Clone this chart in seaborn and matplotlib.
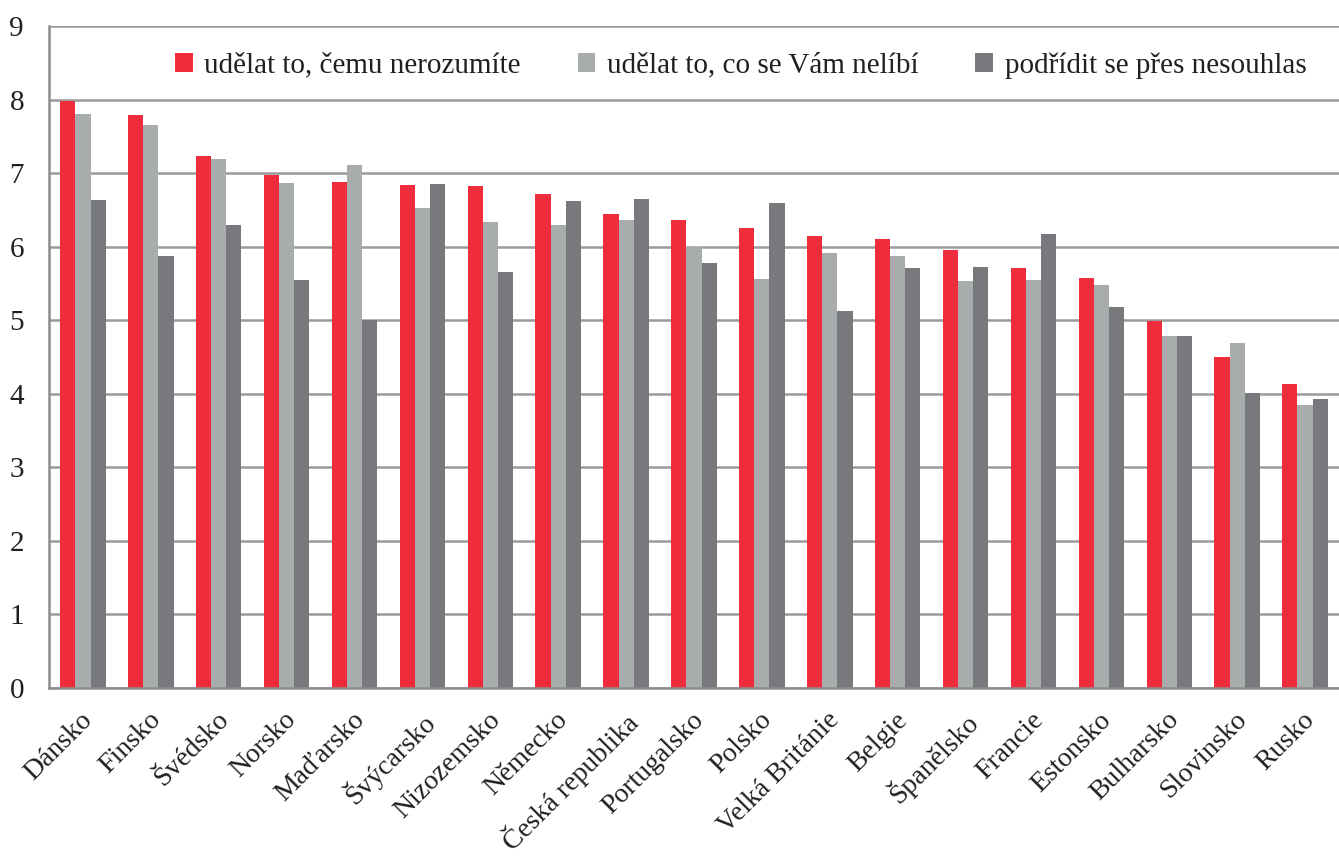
#!/usr/bin/env python3

"""
Grouped bar chart: countries x three statements
"""

import pandas as pd
import seaborn as sns
import matplotlib.pyplot as plt
import matplotlib.transforms as mtransforms
from matplotlib.ticker import FixedLocator

countries = ["Dánsko", "Finsko", "Švédsko", "Norsko", "Maďarsko", "Švýcarsko",
             "Nizozemsko", "Německo", "Česká republika", "Portugalsko", "Polsko",
             "Velká Británie", "Belgie", "Španělsko", "Francie", "Estonsko",
             "Bulharsko", "Slovinsko", "Rusko"]

series_names = ["udělat to, čemu nerozumíte",
                "udělat to, co se Vám nelíbí",
                "podřídit se přes nesouhlas"]

nerozumite = [7.98, 7.79, 7.23, 6.98, 6.88, 6.84, 6.82, 6.72, 6.45, 6.36,
              6.26, 6.14, 6.11, 5.95, 5.71, 5.58, 4.99, 4.50, 4.13]
nelibi = [7.80, 7.66, 7.19, 6.87, 7.11, 6.53, 6.33, 6.29, 6.36, 5.99,
          5.56, 5.92, 5.87, 5.53, 5.55, 5.48, 4.78, 4.69, 3.85]
nesouhlas = [6.63, 5.87, 6.30, 5.55, 5.00, 6.85, 5.66, 6.62, 6.65, 5.78,
             6.60, 5.13, 5.71, 5.72, 6.17, 5.18, 4.79, 4.01, 3.93]

colors = ["#EE2C3C", "#A9ACAD", "#77797C"]
FONT = ["Liberation Serif", "DejaVu Serif"]

# long form table for seaborn
rows = []
for name, vals in zip(series_names, [nerozumite, nelibi, nesouhlas]):
    for c, v in zip(countries, vals):
        rows.append({"country": c, "series": name, "value": v})
df = pd.DataFrame(rows)

sns.set_style("white")
plt.rcParams["font.family"] = FONT

fig = plt.figure(figsize=(13.39, 8.60), dpi=100)
ax = fig.add_axes([0.0366, 0.2, 0.9634, 0.7698])

sns.barplot(data=df, x="country", y="value", hue="series", order=countries,
            hue_order=series_names, palette=colors, width=0.67,
            saturation=1, ax=ax, linewidth=0)

ax.set_ylim(0, 9)
ax.set_xlim(-0.5, len(countries) - 0.5)
ax.set_yticks(range(10))
ax.yaxis.grid(True, color="#9A9A9A", linewidth=1.8)
ax.set_axisbelow(True)
ax.set_xlabel("")
ax.set_ylabel("")

for side in ["top", "right"]:
    ax.spines[side].set_visible(False)
for side in ["left", "bottom"]:
    ax.spines[side].set_color("#8C8C8C")
    ax.spines[side].set_linewidth(1.8)

# Tick marks between groups, labels at group centers
ax.xaxis.set_minor_locator(FixedLocator([i - 0.5 for i in range(len(countries) + 1)]))
ax.tick_params(axis="x", which="major", length=0, pad=14)
ax.tick_params(axis="x", which="minor", length=9, width=1.2, color="#8C8C8C", direction="out")
ax.tick_params(axis="y", length=8, width=1.5, color="#8C8C8C", direction="out", pad=10)

plt.yticks(fontsize=21, family=FONT, color="#231F20")
plt.xticks(fontsize=20, family=FONT, color="#231F20", rotation=45, ha="right",
           rotation_mode="anchor")

# small nudge of the labels, like the original
shift = mtransforms.ScaledTranslation(-3 / 100, 0, fig.dpi_scale_trans)
for lab in ax.get_xticklabels():
    lab.set_transform(lab.get_transform() + shift)

leg = ax.legend(loc="upper right", bbox_to_anchor=(0.995, 1.0), ncol=3,
                frameon=False, prop={"family": FONT, "size": 21},
                handlelength=0.6, handleheight=0.6,
                handletextpad=0.4, columnspacing=1.95)
for t in leg.get_texts():
    t.set_color("#231F20")

plt.savefig("out.png", dpi=100)
